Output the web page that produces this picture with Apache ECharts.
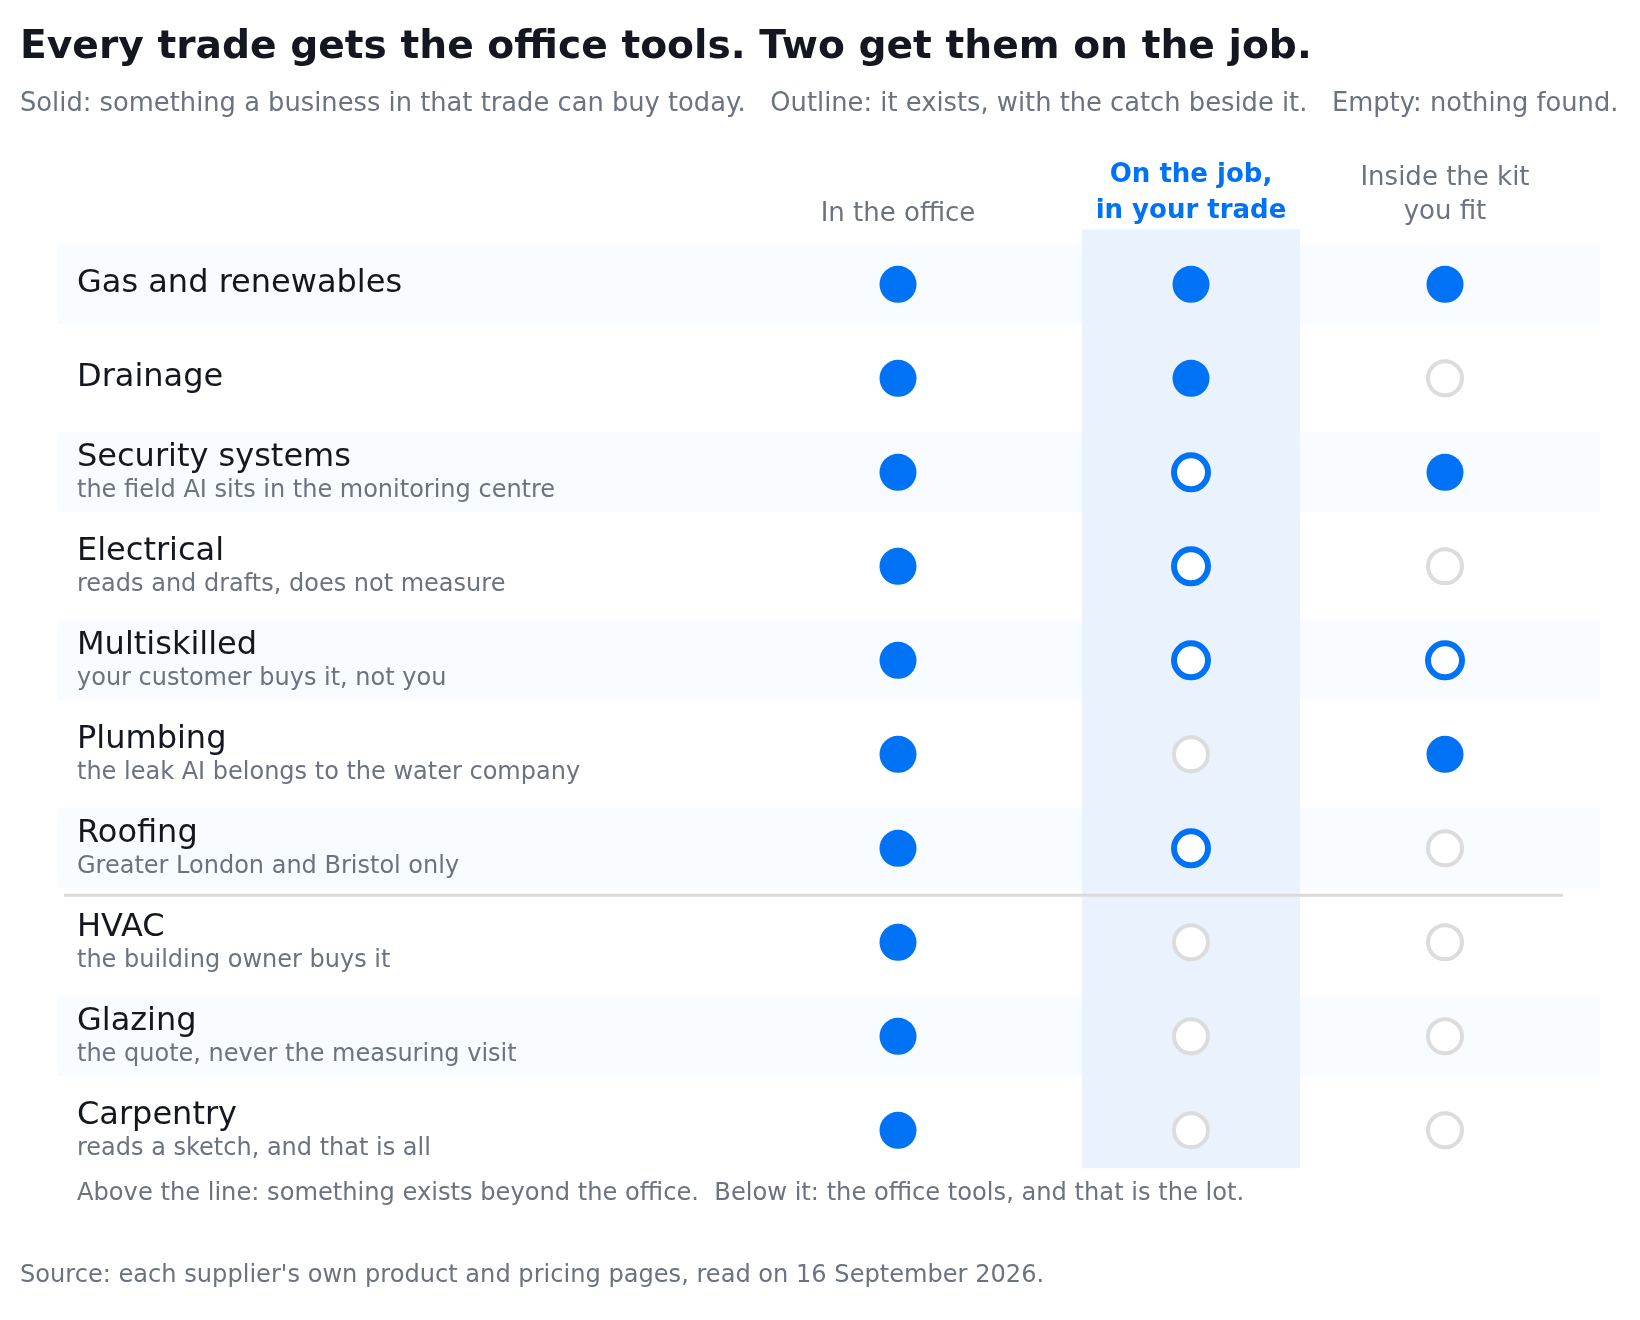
<!DOCTYPE html>
<html>
<head>
<meta charset="utf-8">
<script src="https://cdn.jsdelivr.net/npm/echarts@6/dist/echarts.min.js"></script>
<style>
  html, body { margin: 0; padding: 0; background: #ffffff; }
  #chart { width: 1640px; height: 1320px; }
</style>
</head>
<body>
<div id="chart"></div>
<script>
// ---------- data ----------
const TITLE = 'Every trade gets the office tools. Two get them on the job.';
const SUBTITLE = 'Solid: something a business in that trade can buy today.   Outline: it exists, with the catch beside it.   Empty: nothing found.';
const FOOTNOTE = 'Above the line: something exists beyond the office.  Below it: the office tools, and that is the lot.';
const SOURCE = "Source: each supplier's own product and pricing pages, read on 16 September 2026.";

const columns = ['In the office', 'On the job,\nin your trade', 'Inside the kit\nyou fit'];
const trades = ['Gas and renewables', 'Drainage', 'Security systems', 'Electrical', 'Multiskilled',
                'Plumbing', 'Roofing', 'HVAC', 'Glazing', 'Carpentry'];
const notes = ['', '', 'the field AI sits in the monitoring centre', 'reads and drafts, does not measure',
               'your customer buys it, not you', 'the leak AI belongs to the water company',
               'Greater London and Bristol only', 'the building owner buys it',
               'the quote, never the measuring visit', 'reads a sketch, and that is all'];
// 2 = solid (buy today), 1 = outline (exists, with a catch), 0 = empty (nothing found)
const officeState = [2, 2, 2, 2, 2, 2, 2, 2, 2, 2];
const onJobState  = [2, 2, 1, 1, 1, 0, 1, 0, 0, 0];
const kitState    = [2, 0, 2, 0, 1, 2, 0, 0, 0, 0];
const dividerAfter = 'Roofing';
const highlightColumn = 1;

// ---------- layout / style ----------
const COL_X = [898, 1191, 1445];
const BLUE = '#0072F5';
const GREY_RING = '#dcdcdc';
const DARK = '#14171f';
const MUTED = '#6b7280';
const FONT = '"DejaVu Sans", sans-serif';

const states = [officeState, onJobState, kitState];
function pointsFor(s) {
  const out = [];
  states.forEach((col, j) => col.forEach((v, i) => { if (v === s) out.push([COL_X[j], trades[i]]); }));
  return out;
}

const chart = echarts.init(document.getElementById('chart'), null, { renderer: 'canvas' });

const headerGraphics = columns.map((c, j) => {
  const multi = c.indexOf('\n') >= 0;
  return {
    type: 'text',
    z: 10,
    style: {
      text: c,
      x: COL_X[j],
      y: multi ? 229 : 232,
      align: 'center',
      verticalAlign: 'bottom',
      textAlign: 'center',
      textVerticalAlign: 'bottom',
      lineHeight: j === 2 ? 34 : 36,
      fontSize: 26,
      fontFamily: FONT,
      fontWeight: j === highlightColumn ? 'bold' : 'normal',
      fill: j === highlightColumn ? BLUE : MUTED
    }
  };
});

const option = {
  backgroundColor: '#ffffff',
  animation: false,
  title: [
    { text: TITLE, left: 20, top: 27, padding: 0,
      textStyle: { fontFamily: FONT, fontSize: 39.2, fontWeight: 'bold', color: DARK, lineHeight: 42 } },
    { text: SUBTITLE, left: 20, top: 89, padding: 0,
      textStyle: { fontFamily: FONT, fontSize: 25.75, fontWeight: 'normal', color: MUTED, lineHeight: 30 } },
    { text: FOOTNOTE, left: 77, top: 1179, padding: 0,
      textStyle: { fontFamily: FONT, fontSize: 24.15, fontWeight: 'normal', color: MUTED, lineHeight: 30 } },
    { text: SOURCE, left: 20, top: 1261, padding: 0,
      textStyle: { fontFamily: FONT, fontSize: 24.1, fontWeight: 'normal', color: MUTED, lineHeight: 30 } }
  ],
  graphic: headerGraphics,
  grid: { left: 0, right: 0, top: 237.3, height: 940, containLabel: false },
  xAxis: { type: 'value', min: 0, max: 1640, show: false },
  yAxis: {
    type: 'category',
    data: trades,
    inverse: true,
    axisLine: { show: false },
    axisTick: { show: false },
    splitLine: { show: false },
    axisLabel: {
      inside: true,
      margin: 77,
      align: 'left',
      formatter: (value, idx) => notes[idx]
        ? '{n|' + value + '}\n{s|' + notes[idx] + '}'
        : '{n1|' + value + '}',
      rich: {
        n:  { fontFamily: FONT, fontSize: 32, color: DARK, lineHeight: 36 },
        n1: { fontFamily: FONT, fontSize: 32, color: DARK, lineHeight: 31, padding: [0, 0, 1, 0] },
        s:  { fontFamily: FONT, fontSize: 24, color: MUTED, lineHeight: 30 }
      }
    },
    z: 20
  },
  series: [
    { // zebra stripes
      type: 'custom', z: 1, silent: true,
      data: trades.map((t, i) => [0, i]).filter((d, i) => i % 2 === 0),
      renderItem: (params, api) => {
        const y = api.coord([0, api.value(1)])[1];
        const x0 = api.coord([58, 0])[0];
        const x1 = api.coord([1600, 0])[0];
        return { type: 'rect', shape: { x: x0, y: y - 40, width: x1 - x0, height: 80 },
                 style: { fill: '#f8fbff' } };
      }
    },
    { // highlighted column band
      type: 'custom', z: 2, silent: true,
      data: [[COL_X[highlightColumn], 0]],
      renderItem: (params, api) => {
        const top = api.coord([api.value(0), 0])[1] - 55;
        const bot = api.coord([api.value(0), trades.length - 1])[1] + 38;
        const xl = api.coord([api.value(0) - 109, 0])[0];
        const xr = api.coord([api.value(0) + 109, 0])[0];
        return { type: 'rect', shape: { x: xl, y: top, width: xr - xl, height: bot - top },
                 style: { fill: '#eaf2fe' } };
      }
    },
    { // divider line
      type: 'custom', z: 3, silent: true,
      data: [[0, trades.indexOf(dividerAfter)]],
      renderItem: (params, api) => {
        const k = api.value(1);
        const y = (api.coord([0, k])[1] + api.coord([0, k + 1])[1]) / 2;
        const x0 = api.coord([64, 0])[0];
        const x1 = api.coord([1563, 0])[0];
        return { type: 'line', shape: { x1: x0, y1: y, x2: x1, y2: y },
                 style: { stroke: '#dadada', lineWidth: 3 } };
      }
    },
    { name: 'Solid', type: 'scatter', z: 5, silent: true, symbol: 'circle', symbolSize: 37,
      data: pointsFor(2), itemStyle: { color: BLUE, opacity: 1 } },
    { name: 'Outline', type: 'scatter', z: 5, silent: true, symbol: 'circle', symbolSize: 34,
      data: pointsFor(1), itemStyle: { color: '#ffffff', borderColor: BLUE, borderWidth: 6, opacity: 1 } },
    { name: 'Empty', type: 'scatter', z: 5, silent: true, symbol: 'circle', symbolSize: 34,
      data: pointsFor(0), itemStyle: { color: '#ffffff', borderColor: GREY_RING, borderWidth: 4, opacity: 1 } }
  ]
};
chart.setOption(option);
</script>
</body>
</html>
